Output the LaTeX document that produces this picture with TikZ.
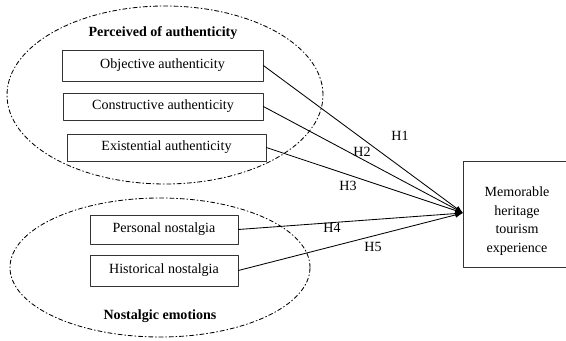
\documentclass[tikz,border=0pt]{standalone}
\usepackage{fontspec}
\setmainfont{Liberation Serif}
\usetikzlibrary{arrows.meta}
\tikzset{
  itembox/.style={draw=black!80,line width=0.5pt,minimum height=0.72cm,inner sep=2pt,font=\fontsize{10}{12}\selectfont},
  grouprim/.style={line width=0.6pt,dash pattern=on 3pt off 1.8pt on 0.7pt off 1.8pt},
  hlabel/.style={font=\fontsize{10}{12}\selectfont,inner sep=1pt}
}
\begin{document}
\begin{tikzpicture}[line cap=round,line join=round,>={Latex[length=5.5pt,width=4pt]}]
  \useasboundingbox (0,0) rectangle (14.15,8.525);
  % the two groups
  \draw[grouprim] (4.125,6.15) ellipse (3.95 and 2.225);
  \draw[grouprim] (4.0,1.8375) ellipse (3.75 and 1.7375);
  \node[font=\fontsize{10}{12}\selectfont\bfseries] (authtitle) at (4.075,7.7) {Perceived of authenticity};
  \node[font=\fontsize{10}{12}\selectfont\bfseries] (nostitle) at (4.0,0.62) {Nostalgic emotions};
  \node[itembox,minimum width=5.025cm,minimum height=0.775cm] (objective) at (4.0625,6.8875) {Objective authenticity};
  \node[itembox,minimum width=5.0cm,minimum height=0.675cm] (constructive) at (4.075,5.8625) {Constructive authenticity};
  \node[itembox,minimum width=4.975cm,minimum height=0.675cm] (existential) at (4.1625,4.8375) {Existential authenticity};
  \node[itembox,minimum width=3.7cm,minimum height=0.725cm] (personal) at (4.1,2.7875) {Personal nostalgia};
  \node[itembox,minimum width=3.7cm,minimum height=0.775cm] (historical) at (4.1,1.7625) {Historical nostalgia};
  % outcome, cut off by the right edge
  \draw[black!80,line width=0.5pt] (11.575,4.5) rectangle (14.6,1.85);
  \node[align=center,font=\fontsize{10}{13.2}\selectfont] (memorable) at (12.925,3.0)
    {Memorable\\heritage\\tourism\\experience};
  \coordinate (memin) at (11.575,3.2);
  \draw[line width=0.6pt,->] (objective.east) -- (memin);
  \draw[line width=0.6pt,->] (constructive.east) -- (memin);
  \draw[line width=0.6pt,->] (existential.east) -- (memin);
  \draw[line width=0.6pt,->] (personal.east) -- (memin);
  \draw[line width=0.6pt,->] (historical.east) -- (memin);
  \node[hlabel] (h1) at (10.0,5.125) {H1};
  \node[hlabel] (h2) at (9.05,4.725) {H2};
  \node[hlabel] (h3) at (8.7,3.875) {H3};
  \node[hlabel] (h4) at (8.3,2.825) {H4};
  \node[hlabel] (h5) at (9.325,2.35) {H5};
\end{tikzpicture}
\end{document}
